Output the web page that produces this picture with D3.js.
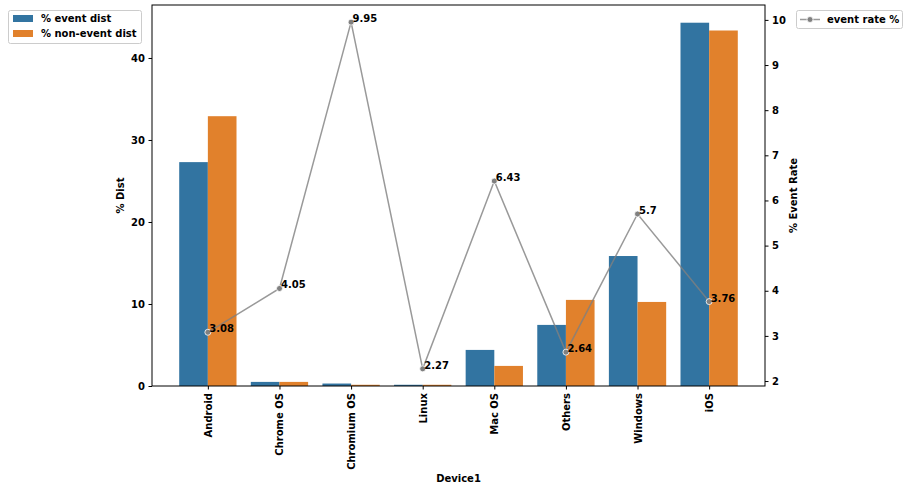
<!DOCTYPE html>
<html>
<head>
<meta charset="utf-8">
<script src="https://cdn.jsdelivr.net/npm/d3@7"></script>
<style>
  body { margin: 0; background: #fff; }
  text { font-family: "DejaVu Sans", sans-serif; font-weight: bold; }
</style>
</head>
<body>
<div id="chart"></div>
<script>
// chart data
const devices = ["Android", "Chrome OS", "Chromium OS", "Linux", "Mac OS", "Others", "Windows", "iOS"];
const eventDist = [27.3, 0.5, 0.3, 0.15, 4.4, 7.45, 15.85, 44.3];
const nonEventDist = [32.9, 0.5, 0.15, 0.15, 2.45, 10.5, 10.25, 43.35];
const eventRate = [3.08, 4.05, 9.95, 2.27, 6.43, 2.64, 5.7, 3.76];
const distTicks = [0, 10, 20, 30, 40];
const rateTicks = [2, 3, 4, 5, 6, 7, 8, 9, 10];

const blue = "#3274a1", orange = "#e1812c", lineGray = "#808080";

const W = 910, H = 491;
const pLeft = 152, pRight = 765, pTop = 5, pBottom = 386;

const svg = d3.select("#chart").append("svg")
    .attr("width", W)
    .attr("height", H);

// scales
const x = d3.scaleLinear().domain([-0.78, 7.78]).range([pLeft, pRight]);
const step = x(1) - x(0);
const barW = step * 0.4;
const yL = d3.scaleLinear().domain([0, 46.46]).range([pBottom, pTop]);
const yR = d3.scaleLinear().domain([1.89, 10.33]).range([pBottom, pTop]);

// bars
svg.append("g").selectAll("rect.ev")
    .data(eventDist)
    .enter().append("rect")
    .attr("x", (d, i) => x(i) - barW)
    .attr("y", d => yL(d))
    .attr("width", barW)
    .attr("height", d => yL(0) - yL(d))
    .style("fill", blue);

svg.append("g").selectAll("rect.nev")
    .data(nonEventDist)
    .enter().append("rect")
    .attr("x", (d, i) => x(i))
    .attr("y", d => yL(d))
    .attr("width", barW)
    .attr("height", d => yL(0) - yL(d))
    .style("fill", orange);

// event rate line (a bit see-through, as in the original)
const line = d3.line()
    .x((d, i) => x(i))
    .y(d => yR(d));

svg.append("path")
    .datum(eventRate)
    .attr("d", line)
    .attr("fill", "none")
    .attr("stroke", lineGray)
    .attr("stroke-opacity", 0.8)
    .attr("stroke-width", 1.5);

svg.append("g").selectAll("circle")
    .data(eventRate)
    .enter().append("circle")
    .attr("cx", (d, i) => x(i))
    .attr("cy", d => yR(d))
    .attr("r", 3)
    .style("fill", lineGray)
    .style("stroke", "#fff")
    .style("stroke-width", 0.8);

svg.append("g").selectAll("text")
    .data(eventRate)
    .enter().append("text")
    .attr("x", (d, i) => x(i) + 1.5)
    .attr("y", d => yR(d))
    .attr("font-size", 10)
    .attr("fill", "#000")
    .text(d => d);

// frame
svg.append("rect")
    .attr("x", pLeft).attr("y", pTop)
    .attr("width", pRight - pLeft).attr("height", pBottom - pTop)
    .attr("fill", "none").attr("stroke", "#000").attr("stroke-width", 1);

// axes
const axL = d3.axisLeft(yL).tickValues(distTicks).tickSize(3.5).tickPadding(3.5);
const gL = svg.append("g").attr("transform", `translate(${pLeft},0)`).call(axL);
const axR = d3.axisRight(yR).tickValues(rateTicks).tickSize(3.5).tickPadding(3.5);
const gR = svg.append("g").attr("transform", `translate(${pRight},0)`).call(axR);
const axB = d3.axisBottom(x).tickValues(d3.range(devices.length))
    .tickFormat(i => devices[i]).tickSize(3.5).tickPadding(3.5);
const gB = svg.append("g").attr("transform", `translate(0,${pBottom})`).call(axB);

[gL, gR, gB].forEach(g => {
    g.select(".domain").remove();
    g.selectAll("text").attr("font-size", 10).attr("font-family", "DejaVu Sans")
        .attr("font-weight", "bold").attr("fill", "#000");
});
gB.selectAll("text")
    .attr("transform", "rotate(-90)")
    .attr("text-anchor", "end")
    .attr("x", -7)
    .attr("y", 0)
    .attr("dy", "0.35em");

// axis titles
svg.append("text")
    .attr("transform", `translate(124,${(pTop + pBottom) / 2}) rotate(-90)`)
    .attr("text-anchor", "middle")
    .attr("font-size", 10)
    .text("% Dist");
svg.append("text")
    .attr("transform", `translate(797,${(pTop + pBottom) / 2}) rotate(-90)`)
    .attr("text-anchor", "middle")
    .attr("font-size", 10)
    .text("% Event Rate");
svg.append("text")
    .attr("x", (pLeft + pRight) / 2)
    .attr("y", 482)
    .attr("text-anchor", "middle")
    .attr("font-size", 10)
    .text("Device1");

// left legend
const lg = svg.append("g");
lg.append("rect")
    .attr("x", 8.5).attr("y", 10.5).attr("width", 133).attr("height", 33)
    .attr("rx", 2).attr("fill", "#fff").attr("stroke", "#ccc");
[["% event dist", blue], ["% non-event dist", orange]].forEach((e, i) => {
    lg.append("rect")
        .attr("x", 13).attr("y", 15 + i * 15).attr("width", 20).attr("height", 7)
        .attr("fill", e[1]);
    lg.append("text")
        .attr("x", 41).attr("y", 22 + i * 15)
        .attr("font-size", 10)
        .text(e[0]);
});

// right legend
const rg = svg.append("g");
rg.append("rect")
    .attr("x", 796.5).attr("y", 10.5).attr("width", 106).attr("height", 18)
    .attr("rx", 2).attr("fill", "#fff").attr("stroke", "#ccc");
rg.append("line")
    .attr("x1", 800).attr("x2", 820).attr("y1", 19.5).attr("y2", 19.5)
    .attr("stroke", lineGray).attr("stroke-opacity", 0.8).attr("stroke-width", 1.5);
rg.append("circle")
    .attr("cx", 810).attr("cy", 19.5).attr("r", 3)
    .style("fill", lineGray).style("stroke", "#fff").style("stroke-width", 0.8);
rg.append("text")
    .attr("x", 827).attr("y", 23)
    .attr("font-size", 10)
    .text("event rate %");
</script>
</body>
</html>
